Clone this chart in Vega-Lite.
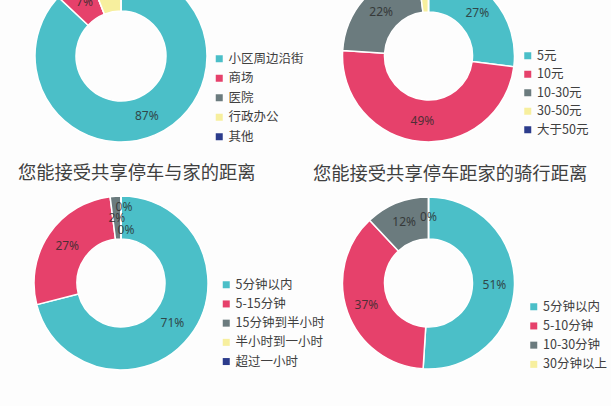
{
  "$schema": "https://vega.github.io/schema/vega-lite/v6.json",
  "background": "#fdfdfd",
  "padding": {"left": 18, "top": -33, "right": 20, "bottom": 40},
  "bounds": "flush",
  "columns": 2,
  "spacing": {"row": 52, "column": 131.5},
  "resolve": {"scale": {"color": "independent", "theta": "independent"}},
  "config": {
    "view": {"stroke": null},
    "text": {"font": "Noto Sans", "fontSize": 12, "fill": "#2a2a2a", "opacity": 0.8},
    "legend": {
      "orient": "none",
      "title": null,
      "padding": 0,
      "symbolType": "square",
      "symbolSize": 49,
      "symbolStrokeWidth": 0,
      "labelFont": "Noto Sans CJK SC",
      "labelFontSize": 12.5,
      "labelColor": "#404040",
      "labelOffset": 3
    },
    "title": {
      "anchor": "start",
      "frame": "group",
      "baseline": "middle",
      "offset": 10,
      "font": "Noto Sans CJK SC",
      "fontSize": 18.3,
      "fontWeight": "normal",
      "color": "#404040"
    }
  },
  "concat": [
    {
      "width": 178,
      "height": 172,
      "data": {"values": [
        {"item": "小区周边沿街", "order": 1, "share": 0.87},
        {"item": "商场", "order": 2, "share": 0.07},
        {"item": "医院", "order": 3, "share": 0},
        {"item": "行政办公", "order": 4, "share": 0.06},
        {"item": "其他", "order": 5, "share": 0}
      ]},
      "encoding": {
        "theta": {"field": "share", "type": "quantitative", "stack": true},
        "order": {"field": "order", "type": "quantitative"}
      },
      "layer": [
        {
          "mark": {"type": "arc", "innerRadius": 45, "outerRadius": 86, "stroke": "white", "strokeWidth": 1.5},
          "encoding": {
            "color": {
              "field": "item", "type": "nominal",
              "scale": {"domain": ["小区周边沿街", "商场", "医院", "行政办公", "其他"], "range": ["#4BBFC8", "#E6416B", "#6B7B7E", "#F7EF9E", "#2C3C8C"]},
              "legend": {"legendX": 181, "legendY": 82.5, "rowPadding": 6.5}
            }
          }
        },
        {
          "mark": {"type": "text", "radius": 65},
          "encoding": {"text": {"field": "share", "format": ".0%"}}
        }
      ]
    },
    {
      "width": 174,
      "height": 172,
      "data": {"values": [
        {"item": "5元", "order": 1, "share": 0.27},
        {"item": "10元", "order": 2, "share": 0.49},
        {"item": "10-30元", "order": 3, "share": 0.22},
        {"item": "30-50元", "order": 4, "share": 0.02},
        {"item": "大于50元", "order": 5, "share": 0}
      ]},
      "encoding": {
        "theta": {"field": "share", "type": "quantitative", "stack": true},
        "order": {"field": "order", "type": "quantitative"}
      },
      "layer": [
        {
          "mark": {"type": "arc", "innerRadius": 44, "outerRadius": 86, "stroke": "white", "strokeWidth": 1.5},
          "encoding": {
            "color": {
              "field": "item", "type": "nominal",
              "scale": {"domain": ["5元", "10元", "10-30元", "30-50元", "大于50元"], "range": ["#4BBFC8", "#E6416B", "#6B7B7E", "#F7EF9E", "#2C3C8C"]},
              "legend": {"legendX": 180, "legendY": 79.5, "rowPadding": 5.5}
            }
          }
        },
        {
          "mark": {"type": "text", "radius": 65},
          "encoding": {"text": {"field": "share", "format": ".0%"}}
        }
      ]
    },
    {
      "width": 178,
      "height": 178,
      "title": {"text": "您能接受共享停车与家的距离", "dx": -14},
      "data": {"values": [
        {"item": "5分钟以内", "order": 1, "share": 0.71},
        {"item": "5-15分钟", "order": 2, "share": 0.27},
        {"item": "15分钟到半小时", "order": 3, "share": 0.02},
        {"item": "半小时到一小时", "order": 4, "share": 0},
        {"item": "超过一小时", "order": 5, "share": 0}
      ]},
      "encoding": {
        "theta": {"field": "share", "type": "quantitative", "stack": true},
        "order": {"field": "order", "type": "quantitative"}
      },
      "layer": [
        {
          "mark": {"type": "arc", "innerRadius": 44, "outerRadius": 87, "stroke": "white", "strokeWidth": 1.5},
          "encoding": {
            "color": {
              "field": "item", "type": "nominal",
              "scale": {"domain": ["5分钟以内", "5-15分钟", "15分钟到半小时", "半小时到一小时", "超过一小时"], "range": ["#4BBFC8", "#E6416B", "#6B7B7E", "#F7EF9E", "#2C3C8C"]},
              "legend": {"legendX": 188, "legendY": 84.5, "rowPadding": 6.2}
            }
          }
        },
        {
          "transform": [{"filter": "datum.share > 0"}],
          "mark": {"type": "text", "radius": 65},
          "encoding": {"text": {"field": "share", "format": ".0%"}}
        },
        {
          "transform": [{"filter": "datum.item === '半小时到一小时'"}],
          "mark": {"type": "text", "radius": 76, "dx": 3},
          "encoding": {"text": {"field": "share", "format": ".0%"}}
        },
        {
          "transform": [{"filter": "datum.item === '超过一小时'"}],
          "mark": {"type": "text", "radius": 53, "dx": 5},
          "encoding": {"text": {"field": "share", "format": ".0%"}}
        }
      ]
    },
    {
      "width": 174,
      "height": 178,
      "title": {"text": "您能接受共享停车距家的骑行距离", "dx": -28.5},
      "data": {"values": [
        {"item": "5分钟以内", "order": 1, "share": 0.51},
        {"item": "5-10分钟", "order": 2, "share": 0.37},
        {"item": "10-30分钟", "order": 3, "share": 0.12},
        {"item": "30分钟以上", "order": 4, "share": 0}
      ]},
      "encoding": {
        "theta": {"field": "share", "type": "quantitative", "stack": true},
        "order": {"field": "order", "type": "quantitative"}
      },
      "layer": [
        {
          "mark": {"type": "arc", "innerRadius": 44, "outerRadius": 86, "stroke": "white", "strokeWidth": 1.5},
          "encoding": {
            "color": {
              "field": "item", "type": "nominal",
              "scale": {"domain": ["5分钟以内", "5-10分钟", "10-30分钟", "30分钟以上"], "range": ["#4BBFC8", "#E6416B", "#6B7B7E", "#F7EF9E"]},
              "legend": {"legendX": 186, "legendY": 106.5, "rowPadding": 6.2}
            }
          }
        },
        {
          "mark": {"type": "text", "radius": 66},
          "encoding": {"text": {"field": "share", "format": ".0%"}}
        }
      ]
    }
  ]
}
